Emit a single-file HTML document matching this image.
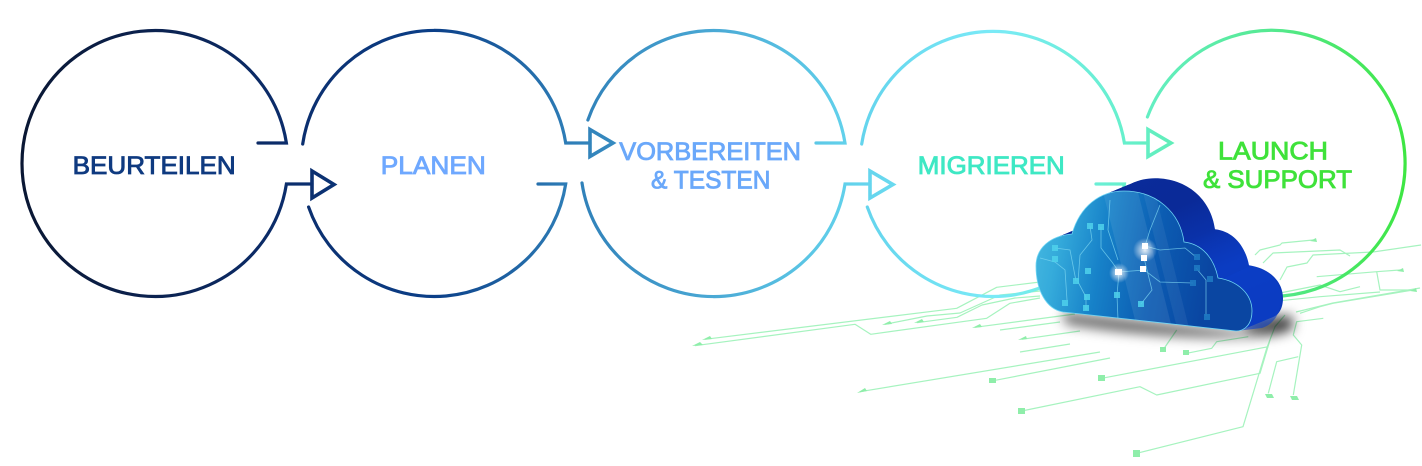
<!DOCTYPE html>
<html><head><meta charset="utf-8"><style>
html,body{margin:0;padding:0;background:#fff;}
svg{display:block;}
</style></head><body>
<svg width="1422" height="466" viewBox="0 0 1422 466" xmlns="http://www.w3.org/2000/svg">
<defs>
<linearGradient id="g" gradientUnits="userSpaceOnUse" x1="20" y1="0" x2="1410" y2="0">
<stop offset="0" stop-color="#0a1733"/>
<stop offset="0.097" stop-color="#0b2250"/>
<stop offset="0.194" stop-color="#0b2d6c"/>
<stop offset="0.298" stop-color="#0b3f88"/>
<stop offset="0.392" stop-color="#2d7cb6"/>
<stop offset="0.499" stop-color="#4aa9d5"/>
<stop offset="0.597" stop-color="#62d2ec"/>
<stop offset="0.700" stop-color="#7aeaf7"/>
<stop offset="0.795" stop-color="#66f0cc"/>
<stop offset="0.901" stop-color="#55e990"/>
<stop offset="1" stop-color="#3de640"/>
</linearGradient>
<linearGradient id="front" gradientUnits="userSpaceOnUse" x1="1036" y1="0" x2="1252" y2="40">
<stop offset="0" stop-color="#5ccae7"/>
<stop offset="0.3" stop-color="#35abdb"/>
<stop offset="0.5" stop-color="#1782c9"/>
<stop offset="0.75" stop-color="#0b5cb2"/>
<stop offset="1" stop-color="#0a46a2"/>
</linearGradient>
<linearGradient id="ext" gradientUnits="userSpaceOnUse" x1="1040" y1="180" x2="1285" y2="320">
<stop offset="0" stop-color="#0a2c9c"/>
<stop offset="0.45" stop-color="#0a2a98"/>
<stop offset="0.7" stop-color="#0b3cc2"/>
<stop offset="1" stop-color="#0a36b4"/>
</linearGradient>
<radialGradient id="glow">
<stop offset="0" stop-color="#ffffff" stop-opacity="0.9"/>
<stop offset="1" stop-color="#ffffff" stop-opacity="0"/>
</radialGradient>
<filter id="blur" x="-20%" y="-100%" width="140%" height="300%"><feGaussianBlur stdDeviation="6"/></filter>
<path id="cf" d="M1063,312 C1046,309 1036,290 1036,266 C1036,248 1050,236 1072,234 C1080,206 1100,191 1124,191 C1156,191 1180,212 1184,242 C1202,244 1214,258 1218,278 C1238,281 1252,294 1252,311 C1252,323 1246,331 1236,331 Z"/>
<clipPath id="cfc"><use href="#cf"/></clipPath>
</defs>

<!-- circuit traces -->
<g fill="none" stroke="#a6f3bf" stroke-width="1.2" stroke-linejoin="round">
<polyline points="695,345.7 855,324.3 870.7,334.3 986.7,318.3 1010,303.3 1040,298"/>
<polyline points="705,339.3 956.7,308.3 996.7,287.3 1040,282"/>
<polyline points="885,324.3 927,316 960,313 1000,295 1040,291"/>
<polyline points="917,322.7 957,317.3 982,305 1015,298 1040,296"/>
<polyline points="975,327.3 1075,314"/>
<polyline points="1021.7,339.3 1080,331"/>
<polyline points="860,391.7 1100,352"/>
<polyline points="993.3,380.7 1110,358"/>
<polyline points="1021.7,411 1140,386.7 1156.7,395 1260,373.3 1270,340"/>
<polyline points="1101.7,378.3 1268.3,346.7"/>
<polyline points="1136.7,453.3 1243,426.7 1266.7,348.3 1275,326.7 1285,315"/>
<polyline points="1163,350 1176.7,330"/>
<polyline points="1186.7,353.3 1211.7,348.3 1216.7,341.7 1248.3,336.7"/>
<polyline points="1268.3,393.3 1276.7,361.7 1298.3,356.7"/>
<polyline points="1293.3,395 1301.7,345 1293.3,335 1296.7,321.7 1323.3,318.3"/>
<polyline points="1296,312 1333,303 1420,288"/>
<polyline points="1255,255 1260,250 1280,245 1282,243 1313,240"/>
<polyline points="1263,263 1273,253 1340,250 1350,256"/>
<polyline points="1280,280 1287,267 1307,263 1313,255 1373,252 1421,245"/>
<polyline points="1316.7,276.7 1376.7,271.7 1380,290 1413,290"/>
<polyline points="1376.7,271.7 1400,270"/>
<polyline points="1280,293 1320,285 1340,291.7 1360,286.7"/>
<polyline points="1270,301.7 1320,296.7 1380,292"/>
<polyline points="1300,313.3 1320,306.7 1333,303.3 1413,290"/>
<polyline points="1000,330 1060,322"/>
<polyline points="1020,352 1070,344"/>
</g>
<g fill="#8feeaa">
<polygon points="692,346 700,342 703,345"/>
<polygon points="702,340 710,336 712,339"/>
<polygon points="882,325 890,321 892,324"/>
<polygon points="914,323 922,319 924,322"/>
<polygon points="972,328 980,324 982,327"/>
<polygon points="1018,340 1026,336 1027,339"/>
<polygon points="857,393 865,388 867,391"/>
<rect x="989" y="378" width="7" height="5"/>
<rect x="1018" y="408" width="7" height="6"/>
<rect x="1098" y="375" width="7" height="6"/>
<rect x="1133" y="450" width="7" height="7"/>
<rect x="1160" y="347" width="6" height="5"/>
<rect x="1183" y="350" width="6" height="5"/>
<polygon points="1265,394 1272,394 1274,398 1267,398"/>
<polygon points="1290,396 1297,396 1299,400 1292,400"/>
<polygon points="1310,241 1316,238 1317,242"/>
<polygon points="1397,271 1403,268 1404,272"/>
<polygon points="1410,291 1416,288 1417,292"/>
</g>

<!-- circles & arrows -->
<g fill="none" stroke="url(#g)" stroke-width="3.2" stroke-linecap="round" stroke-linejoin="miter">
<path d="M258,143 H286.4 A133,133 0 1 0 286.4,184 H312"/>
<path d="M312,171 L334,184.5 L312,198 Z" stroke-width="3.6"/>
<path d="M302.7,144 A133,133 0 0 1 565.7,143 H590"/>
<path d="M538,184 H565.7 A133,133 0 0 1 308.6,207"/>
<path d="M590,129.5 L613,143 L590,156.5 Z" stroke-width="3.6"/>
<path d="M587.9,120 A133,133 0 0 1 845,143 H816"/>
<path d="M582,183 A133,133 0 0 0 845,184 H870"/>
<path d="M870,171 L893,184.5 L870,198 Z" stroke-width="3.6"/>
<path d="M861.7,144 A133,133 0 0 1 1124.4,143 H1148"/>
<path d="M1096,184 H1124.4 A133,133 0 0 1 867.3,207"/>
<path d="M1148,129.5 L1171,143 L1148,156.5 Z" stroke-width="3.6"/>
<path d="M1147.4,117 A133,133 0 1 1 1157,230"/>
</g>

<!-- labels -->
<g font-family="'Liberation Sans', sans-serif" font-size="25" stroke-width="0.85">
<text x="72.7" y="174" textLength="163" lengthAdjust="spacingAndGlyphs" fill="#0f3a80" stroke="#0f3a80">BEURTEILEN</text>
<text x="380.8" y="174" textLength="105" lengthAdjust="spacingAndGlyphs" fill="#6ea8ff" stroke="#6ea8ff">PLANEN</text>
<text x="619.3" y="160" textLength="181.7" lengthAdjust="spacingAndGlyphs" fill="#6aa8fa" stroke="#6aa8fa">VORBEREITEN</text>
<text x="651" y="188.3" textLength="119.5" lengthAdjust="spacingAndGlyphs" fill="#6aa8fa" stroke="#6aa8fa">&amp; TESTEN</text>
<text x="917.8" y="174" textLength="147" lengthAdjust="spacingAndGlyphs" fill="#3ee8c4" stroke="#3ee8c4">MIGRIEREN</text>
<text x="1218" y="159.3" textLength="110" lengthAdjust="spacingAndGlyphs" fill="#3fe23a" stroke="#3fe23a">LAUNCH</text>
<text x="1203" y="188" textLength="149" lengthAdjust="spacingAndGlyphs" fill="#3fe23a" stroke="#3fe23a">&amp; SUPPORT</text>
</g>

<!-- cloud shadow -->
<g filter="url(#blur)">
<path d="M1062,312 L1236,331 C1258,333 1280,326 1290,312 L1294,328 C1268,344 1150,338 1066,324 Z" fill="#000" opacity="0.6"/>
<ellipse cx="1268" cy="324" rx="24" ry="10" fill="#000" opacity="0.55"/>
</g>

<!-- cloud extrusion -->
<g fill="url(#ext)">
<use href="#cf" transform="translate(31,-12.8)"/>
<use href="#cf" transform="translate(29,-12)"/>
<use href="#cf" transform="translate(27,-11.2)"/>
<use href="#cf" transform="translate(25,-10.4)"/>
<use href="#cf" transform="translate(23,-9.5)"/>
<use href="#cf" transform="translate(21,-8.7)"/>
<use href="#cf" transform="translate(19,-7.9)"/>
<use href="#cf" transform="translate(17,-7)"/>
<use href="#cf" transform="translate(15,-6.2)"/>
<use href="#cf" transform="translate(13,-5.4)"/>
<use href="#cf" transform="translate(11,-4.5)"/>
<use href="#cf" transform="translate(9,-3.7)"/>
<use href="#cf" transform="translate(7,-2.9)"/>
<use href="#cf" transform="translate(5,-2.1)"/>
<use href="#cf" transform="translate(3,-1.2)"/>
<use href="#cf" transform="translate(1,-0.4)"/>
</g>
<path d="M1252,311 C1252,294 1240,282 1222,279 L1250,266 C1270,270 1281,282 1281,298 C1281,315 1272,325 1262,328 L1236,331 C1246,331 1252,323 1252,311 Z" fill="#0c40c8" opacity="0.6"/>

<!-- cloud front -->
<use href="#cf" fill="url(#front)" stroke="#6fd6f4" stroke-width="0.8"/>
<g clip-path="url(#cfc)">
<polygon points="1100,180 1135,180 1175,340 1140,340" fill="#ffffff" opacity="0.08"/>
<polygon points="1140,180 1152,180 1192,340 1180,340" fill="#ffffff" opacity="0.06"/>
<g fill="none" stroke="#7fd8f2" stroke-width="0.8" opacity="0.75">
<polyline points="1040,258 1055,262 1065,270 1067,300"/>
<polyline points="1090,226 1092,240 1080,255 1078,282 1086,297 1086,310"/>
<polyline points="1101,227 1101,248 1112,262 1119,272 1145,270"/>
<polyline points="1119,272 1117,295 1118,320"/>
<polyline points="1145,246 1160,250 1185,248 1196,257"/>
<polyline points="1144,258 1152,290 1141,304"/>
<polyline points="1143,269 1160,282 1193,283"/>
<polyline points="1110,200 1108,230 1118,260"/>
<polyline points="1160,205 1150,230 1145,246"/>
<polyline points="1196,268 1206,280 1206,316"/>
<polyline points="1055,248 1070,250 1076,281"/>
</g>
<g fill="#4fd2ec" opacity="0.85">
<rect x="1087" y="223" width="6" height="6"/>
<rect x="1098" y="224" width="6" height="6"/>
<rect x="1052" y="245" width="6" height="6"/>
<rect x="1052" y="256" width="6" height="6"/>
<rect x="1085" y="268" width="6" height="6"/>
<rect x="1073" y="278" width="6" height="6"/>
<rect x="1084" y="294" width="6" height="6"/>
<rect x="1114" y="292" width="6" height="6"/>
<rect x="1138" y="301" width="6" height="6"/>
<rect x="1083" y="305" width="6" height="6"/>
<rect x="1062" y="300" width="6" height="6"/>
</g>
<g fill="#1f79c2" opacity="0.9">
<rect x="1194" y="254" width="6" height="6"/>
<rect x="1194" y="265" width="6" height="6"/>
<rect x="1190" y="280" width="6" height="6"/>
<rect x="1207" y="276" width="6" height="6"/>
<rect x="1204" y="314" width="6" height="6"/>
</g>
<circle cx="1145" cy="250" r="12" fill="url(#glow)"/>
<circle cx="1119" cy="273" r="10" fill="url(#glow)"/>
<g fill="#ffffff">
<rect x="1142" y="243" width="6" height="6"/>
<rect x="1141" y="255" width="6" height="6"/>
<rect x="1140" y="266" width="6" height="6"/>
<rect x="1115" y="269" width="7" height="6"/>
</g>
</g>
</svg>
</body></html>
